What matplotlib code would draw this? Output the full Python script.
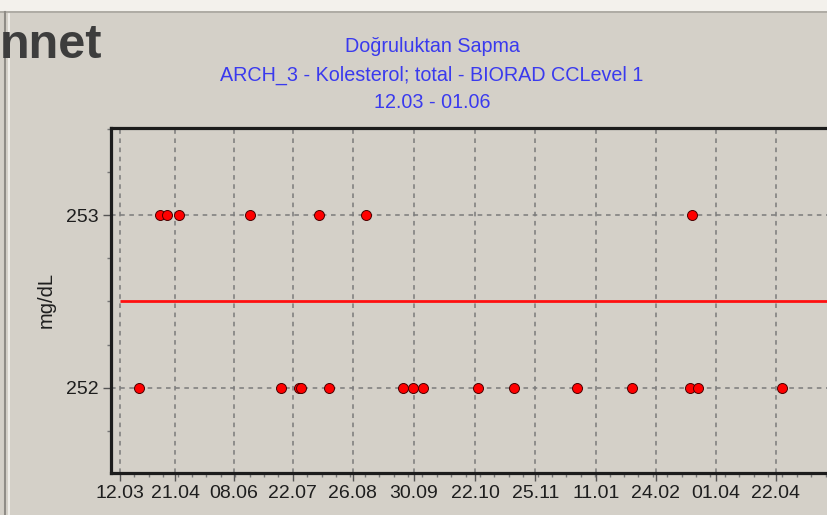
import numpy as np
import matplotlib
matplotlib.use("Agg")
import matplotlib.pyplot as plt
from matplotlib.lines import Line2D
from matplotlib.patches import Rectangle
from matplotlib.ticker import FixedLocator, MultipleLocator

# --- data (x in approx. day index, 12.03 = 0) ---
tick_pos = [0, 9.2, 19.0, 28.8, 38.8, 49.0, 59.2, 69.2, 79.3, 89.3, 99.3, 109.3]
tick_labels = ["12.03", "21.04", "08.06", "22.07", "26.08", "30.09",
               "22.10", "25.11", "11.01", "24.02", "01.04", "22.04"]

x_high = [6.7, 7.9, 9.8, 21.7, 33.2, 41.0, 95.3]
y_high = [253] * len(x_high)
x_low = [3.2, 26.9, 29.8, 30.2, 34.8, 47.2, 48.9, 50.5, 59.7, 65.7,
         76.1, 85.3, 95.0, 96.4, 110.3]
y_low = [252] * len(x_low)
target = 252.5

title_lines = ["Doğruluktan Sapma",
               "ARCH_3 - Kolesterol; total - BIORAD CCLevel 1",
               "12.03 - 01.06"]

plt.rcParams['font.family'] = ['Liberation Sans', 'DejaVu Sans']
bg = '#d4d0c8'
fig = plt.figure(figsize=(8.28, 5.15), dpi=100, facecolor=bg)

# window frame bits
fig.add_artist(Rectangle((0, 1 - 11 / 515), 1, 11 / 515, transform=fig.transFigure,
                         facecolor='#f3f1ec', edgecolor='none'))
fig.add_artist(Line2D([0, 1], [1 - 12 / 515] * 2, transform=fig.transFigure,
                      color='#a8a59e', lw=1.2))
fig.add_artist(Line2D([5.5 / 828] * 2, [0, 1 - 12 / 515], transform=fig.transFigure,
                      color='#8f8c86', lw=1.5))
fig.add_artist(Line2D([9 / 828] * 2, [0, 1 - 14 / 515], transform=fig.transFigure,
                      color='#f4f2ee', lw=1.2))

fig.text(102 / 828, 1 - 58 / 515, "nnet", ha='right', va='baseline',
         fontsize=35, fontweight='bold', color='#3d3d3d')

ax = fig.add_axes([111 / 828, 42 / 515, 1 - 111 / 828, 345 / 515])
ax.set_facecolor(bg)

ax.set_xlim(-1.5, 118)
ax.set_ylim(251.506, 253.504)

ax.xaxis.set_major_locator(FixedLocator(tick_pos))
ax.set_xticklabels(tick_labels)
ax.xaxis.set_minor_locator(MultipleLocator(2.4))
ax.set_yticks([252, 253])
ax.set_yticklabels(["252", "253"])
ax.yaxis.set_minor_locator(MultipleLocator(0.25))

ax.grid(True, which='major', color='#7a7a7a', linestyle=(0, (3, 3)), lw=1.1)
ax.set_axisbelow(True)

ax.tick_params(axis='both', which='major', length=6, width=1, color='#555555',
               labelsize=14, labelcolor='#1e1e1e')
ax.tick_params(axis='both', which='minor', length=3, width=1, color='#777777')
ax.tick_params(axis='x', which='major', pad=3)
ax.tick_params(axis='y', which='major', pad=3)

for side in ['left', 'top', 'bottom']:
    ax.spines[side].set_linewidth(2.3)
    ax.spines[side].set_color('#1c1c1c')
ax.spines['right'].set_visible(False)

ax.hlines(target, 0, 118, color='#ff1010', lw=2.0, zorder=3)
ax.plot(x_high, y_high, 'o', ms=7.2, color='#ff0000', mec='#4a0000', mew=0.7,
        linestyle='none', zorder=4, clip_on=False)
ax.plot(x_low, y_low, 'o', ms=7.2, color='#ff0000', mec='#4a0000', mew=0.7,
        linestyle='none', zorder=4, clip_on=False)

ax.set_ylabel("mg/dL", fontsize=14.5, color='#1e1e1e', labelpad=7)

for i, line in enumerate(title_lines):
    fig.text(432 / 828, 1 - (47 + 28 * i) / 515, line, ha='center', va='center',
             fontsize=14.2, color='#3a3aee')

fig.savefig("out.png", dpi=100, facecolor=bg)
